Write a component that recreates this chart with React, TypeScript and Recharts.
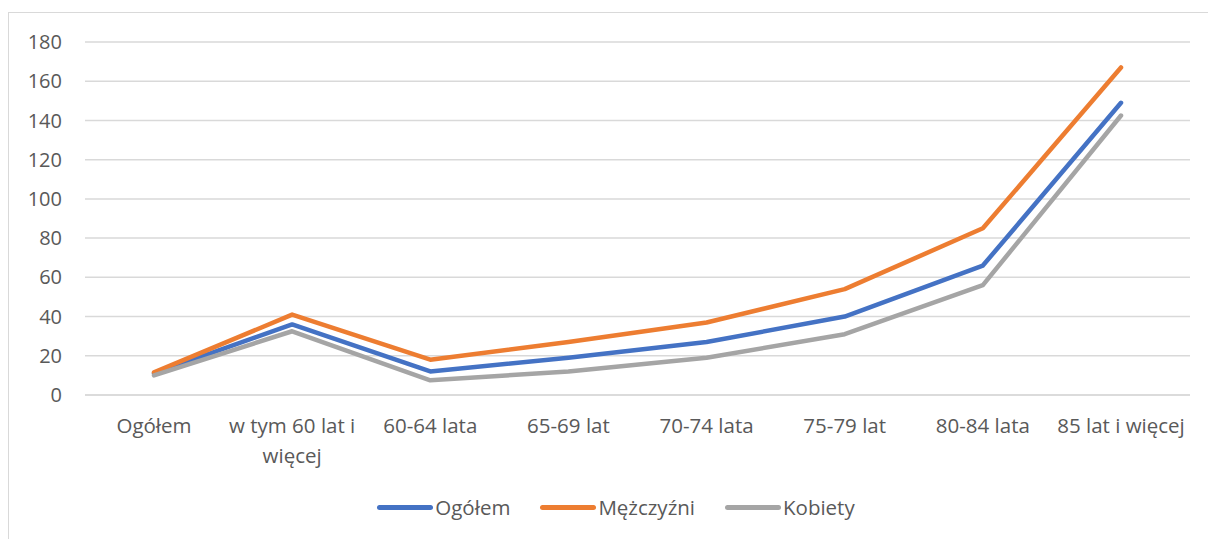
import { LineChart, Line, XAxis, YAxis, CartesianGrid, Legend } from 'recharts'

const categories = ['Ogółem', 'w tym 60 lat i więcej', '60-64 lata', '65-69 lat', '70-74 lata', '75-79 lat', '80-84 lata', '85 lat i więcej']
const ogolem = [11, 36, 12, 19, 27, 40, 66, 149]
const mezczyzni = [11.5, 41, 18, 27, 37, 54, 85, 167]
const kobiety = [10, 32.5, 7.5, 12, 19, 31, 56, 142.5]
const yTicks = [0, 20, 40, 60, 80, 100, 120, 140, 160, 180]

const series = [
  { key: 'ogolem', name: 'Ogółem', color: '#4472C4' },
  { key: 'mezczyzni', name: 'Mężczyźni', color: '#ED7D31' },
  { key: 'kobiety', name: 'Kobiety', color: '#A5A5A5' },
]

const data = categories.map((c, i) => ({
  name: c,
  ogolem: ogolem[i],
  mezczyzni: mezczyzni[i],
  kobiety: kobiety[i],
}))

const FONT = 'Open Sans, Noto Sans, sans-serif'
const TEXT = '#595959'

// Excel wraps the long label over two lines
const wrapLabel = (label: string) =>
  label === 'w tym 60 lat i więcej' ? ['w tym 60 lat i', 'więcej'] : [label]

function CategoryTick({ x, y, payload }: any) {
  const lines = wrapLabel(payload.value)
  return (
    <text x={x} y={y} textAnchor="middle" fill={TEXT} fontSize={20.5} fontFamily={FONT}>
      {lines.map((l, i) => (
        <tspan key={i} x={x} dy={30}>
          {l}
        </tspan>
      ))}
    </text>
  )
}

function LegendContent() {
  return (
    <div style={{ display: 'flex', justifyContent: 'center', fontFamily: FONT, fontSize: 20.5, color: TEXT }}>
      {series.map(s => (
        <div key={s.key} style={{ display: 'flex', alignItems: 'center', marginRight: s.key === 'kobiety' ? 0 : 30 }}>
          <div style={{ width: 56, height: 5, borderRadius: 3, background: s.color, marginRight: 2 }} />
          <span>{s.name}</span>
        </div>
      ))}
    </div>
  )
}

export default function App() {
  return (
    <div style={{ position: 'absolute', left: 0, top: 0, width: 1208, height: 539, background: '#fff', overflow: 'hidden' }}>
      <div style={{ position: 'absolute', left: 8, top: 12, width: 1220, height: 540, border: '1.5px solid #d9d9d9', boxSizing: 'border-box' }} />
      <LineChart width={1208} height={539} data={data} margin={{ top: 42, right: 18, bottom: 56, left: 0 }}>
        <CartesianGrid vertical={false} stroke="#d9d9d9" strokeWidth={1.5} />
        <XAxis
          dataKey="name"
          tick={<CategoryTick />}
          axisLine={{ stroke: '#d9d9d9', strokeWidth: 1.5 }}
          tickLine={false}
          interval={0}
          height={60}
          padding={{ left: 69, right: 69 }}
        />
        <YAxis
          domain={[0, 180]}
          ticks={yTicks}
          width={85}
          axisLine={false}
          tickLine={false}
          tickMargin={17}
          tick={{ fill: TEXT, fontSize: 20, fontFamily: FONT }}
        />
        {series.map(s => (
          <Line
            key={s.key}
            dataKey={s.key}
            name={s.name}
            stroke={s.color}
            strokeWidth={4.5}
            strokeLinecap="round"
            strokeLinejoin="round"
            dot={false}
            isAnimationActive={false}
          />
        ))}
        <Legend content={<LegendContent />} wrapperStyle={{ top: 493, left: 12, width: 1208 }} />
      </LineChart>
    </div>
  )
}
